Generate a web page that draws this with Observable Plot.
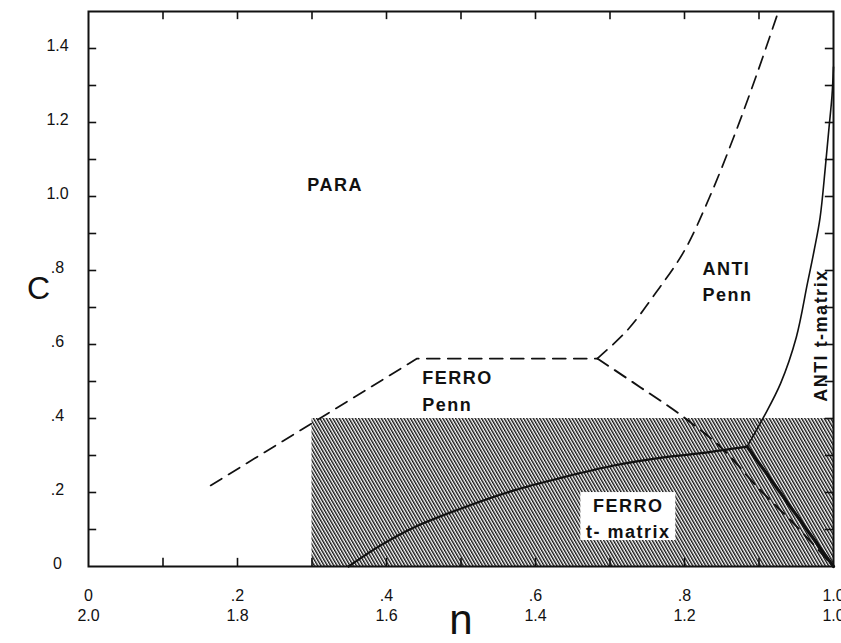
<!DOCTYPE html>
<html>
<head>
<meta charset="utf-8">
<script src="https://cdn.jsdelivr.net/npm/d3@7"></script>
<script src="https://cdn.jsdelivr.net/npm/@observablehq/plot@0.6"></script>
<style>
  html, body { margin: 0; padding: 0; background: #fff; }
  #chart { width: 841px; height: 643px; }
</style>
</head>
<body>
<div id="chart"></div>
<script>
// ---- axis ticks and labels ----
const xMajor = [0, 0.2, 0.4, 0.6, 0.8, 1.0];
const xLabelsTop = ["0", ".2", ".4", ".6", ".8", "1.0"];
const xLabelsBottom = ["2.0", "1.8", "1.6", "1.4", "1.2", "1.0"];
const xTickMarks = [0.1, 0.2, 0.3, 0.4, 0.5, 0.6, 0.7, 0.8, 0.9];
const yMajor = [0, 0.2, 0.4, 0.6, 0.8, 1.0, 1.2, 1.4];
const yLabels = ["0", ".2", ".4", ".6", ".8", "1.0", "1.2", "1.4"];
const yTickMarks = [0.1, 0.2, 0.3, 0.4, 0.5, 0.6, 0.7, 0.8, 0.9, 1.0, 1.1, 1.2, 1.3, 1.4];
const xTitle = "n";
const yTitle = "C";

// ---- Penn (dashed) phase boundaries ----
const pennFerroN = [0.164, 0.441, 0.683];
const pennFerroC = [0.219, 0.562, 0.562];
const pennAntiN = [0.683, 0.723, 0.762, 0.800, 0.834, 0.866, 0.897, 0.926];
const pennAntiC = [0.562, 0.638, 0.741, 0.854, 1.000, 1.160, 1.330, 1.500];
const pennLowN = [0.683, 0.741, 0.798, 0.852, 0.898, 0.952, 1.000];
const pennLowC = [0.562, 0.484, 0.405, 0.316, 0.214, 0.105, 0.000];

// ---- t-matrix (solid) phase boundaries ----
const tFerroN = [0.349, 0.392, 0.436, 0.503, 0.570, 0.637, 0.705, 0.772, 0.817, 0.884];
const tFerroC = [0.000, 0.057, 0.105, 0.159, 0.205, 0.241, 0.273, 0.295, 0.305, 0.324];
const tAntiN = [0.884, 0.906, 0.929, 0.950, 0.965, 0.974, 0.982, 0.989, 0.994, 0.998, 1.000];
const tAntiC = [0.324, 0.403, 0.495, 0.619, 0.765, 0.854, 0.943, 1.078, 1.186, 1.273, 1.350];
const tSplitN = [0.884, 1.000];
const tSplitC = [0.324, 0.000];

// ---- hatched region (t-matrix validity) ----
const hatchN = [0.30, 1.00];
const hatchC = [0.00, 0.40];

// ---- region labels ----
const paraLabel = ["PARA"];      const paraN = [0.331]; const paraC = [1.03];
const ferroPennLabel = ["FERRO\nPenn"]; const ferroPennN = [0.448]; const ferroPennC = [0.481];
const antiPennLabel = ["ANTI\nPenn"];   const antiPennN = [0.824]; const antiPennC = [0.776];
const ferroTLabel = ["FERRO\nt- matrix"]; const ferroTN = [0.7246]; const ferroTC = [0.135];
const antiTLabel = ["ANTI t-matrix"];   const antiTN = [0.983]; const antiTC = [0.624];

const pts = (ns, cs) => ns.map((n, i) => ({n, c: cs[i]}));
const ink = "#111";
const dash = "13,8";
const labelFont = {fontSize: 18, fontWeight: "bold", fill: ink};

const chart = Plot.plot({
  width: 841,
  height: 643,
  marginLeft: 88,
  marginRight: 8,
  marginTop: 11,
  marginBottom: 77,
  x: {domain: [0, 1], axis: null},
  y: {domain: [0, 1.5], axis: null},
  style: {fontFamily: "'Liberation Sans', Arial, sans-serif", background: "#fff", color: ink},
  marks: [
    Plot.rect([{x1: hatchN[0], x2: hatchN[1], y1: hatchC[0], y2: hatchC[1]}],
      {x1: "x1", x2: "x2", y1: "y1", y2: "y2", fill: "#787878"}),
    // ticks (inward)
    Plot.ruleX(xTickMarks, {x: d => d, y1: 0, y2: 0.022, stroke: ink, strokeWidth: 1.6}),
    Plot.ruleX(xTickMarks, {x: d => d, y1: 1.5, y2: 1.478, stroke: ink, strokeWidth: 1.6}),
    Plot.ruleY(yTickMarks, {y: d => d, x1: 0, x2: 0.011, stroke: ink, strokeWidth: 1.6}),
    Plot.ruleY(yTickMarks, {y: d => d, x1: 1, x2: 0.989, stroke: ink, strokeWidth: 1.6}),
    // Penn boundaries (dashed)
    Plot.line(pts(pennFerroN, pennFerroC), {x: "n", y: "c", stroke: ink, strokeWidth: 1.7, strokeDasharray: dash}),
    Plot.line(pts(pennAntiN, pennAntiC), {x: "n", y: "c", stroke: ink, strokeWidth: 1.7, strokeDasharray: dash, curve: "catmull-rom", clip: true}),
    Plot.line(pts(pennLowN, pennLowC), {x: "n", y: "c", stroke: ink, strokeWidth: 1.9, strokeDasharray: dash, curve: "catmull-rom"}),
    // t-matrix boundaries (solid)
    Plot.line(pts(tFerroN, tFerroC), {x: "n", y: "c", stroke: ink, strokeWidth: 2.2, curve: "catmull-rom"}),
    Plot.line(pts(tAntiN, tAntiC), {x: "n", y: "c", stroke: ink, strokeWidth: 1.6, curve: "catmull-rom"}),
    Plot.line(pts(tSplitN, tSplitC), {x: "n", y: "c", stroke: ink, strokeWidth: 3.2}),
    // label box for FERRO t-matrix
    Plot.rect(pts(ferroTN, ferroTC), {x1: "n", x2: "n", y1: "c", y2: "c",
      insetLeft: -47.5, insetRight: -47.5, insetTop: -24, insetBottom: -24, fill: "#fff"}),
    Plot.frame({stroke: ink, strokeWidth: 2}),
    // tick labels
    Plot.text(yMajor, {x: 0, y: d => d, text: (d, i) => yLabels[i], dx: -31, dy: -3, textAnchor: "middle", fontSize: 16, fontWeight: 500, fill: ink}),
    Plot.text(xMajor, {x: d => d, y: 0, text: (d, i) => xLabelsTop[i], dy: 29, fontSize: 16, fontWeight: 500, fill: ink}),
    Plot.text(xMajor, {x: d => d, y: 0, text: (d, i) => xLabelsBottom[i], dy: 49, fontSize: 16, fontWeight: 500, fill: ink}),
    // axis titles
    Plot.text([xTitle], {frameAnchor: "bottom", text: d => d, dy: 67, fontSize: 42, fontWeight: 300, fill: ink}),
    Plot.text([yTitle], {frameAnchor: "left", text: d => d, dx: -50, textAnchor: "middle", fontSize: 32, fontWeight: 300, fill: ink}),
    // region labels
    Plot.text(pts(paraN, paraC), {x: "n", y: "c", text: () => paraLabel[0], ...labelFont}),
    Plot.text(pts(ferroPennN, ferroPennC), {x: "n", y: "c", text: () => ferroPennLabel[0], textAnchor: "start", lineHeight: 1.5, ...labelFont}),
    Plot.text(pts(antiPennN, antiPennC), {x: "n", y: "c", text: () => antiPennLabel[0], textAnchor: "start", lineHeight: 1.45, ...labelFont}),
    Plot.text(pts(ferroTN, ferroTC), {x: "n", y: "c", text: () => ferroTLabel[0], lineHeight: 1.45, ...labelFont}),
    Plot.text(pts(antiTN, antiTC), {x: "n", y: "c", text: () => antiTLabel[0], rotate: -90, ...labelFont})
  ]
});

// hatch pattern for the shaded region
const svg = d3.select(chart);
const defs = svg.insert("defs", ":first-child");
const pat = defs.append("pattern")
  .attr("id", "hatch")
  .attr("patternUnits", "userSpaceOnUse")
  .attr("width", 2.8).attr("height", 12)
  .attr("patternTransform", "rotate(-30)");
pat.append("rect").attr("width", 2.8).attr("height", 12).attr("fill", "#fff");
pat.append("rect").attr("x", 0).attr("y", 0).attr("width", 1.4).attr("height", 12).attr("fill", "#111");
svg.selectAll('[fill="#787878"]').attr("fill", "url(#hatch)");
svg.selectAll('g[font-size="18"]').style("letter-spacing", "1.5px");

document.getElementById("chart").appendChild(chart);
</script>
</body>
</html>
